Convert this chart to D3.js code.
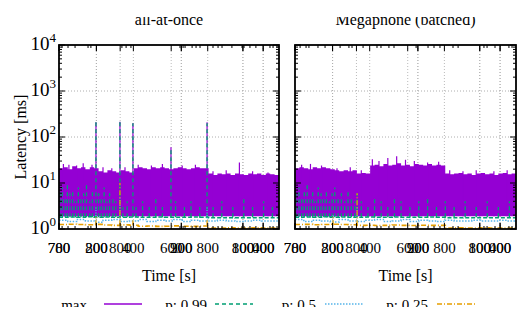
<!DOCTYPE html>
<html>
<head>
<meta charset="utf-8">
<script src="https://cdn.jsdelivr.net/npm/d3@7"></script>
<style>
body { margin: 0; background: #fff; }
text { font-family: "Liberation Serif", "DejaVu Serif", serif; fill: #000; }
</style>
</head>
<body>
<div id="chart"></div>
<script>
// Values (time in s, latency in ms)
var panelTitles = ["all-at-once", "Megapnone (batched)"];

// x tick labels overlap in the original, several sit on the same tick
var xTickVals   = [0, 0, 170, 170, 278, 338, 510, 556, 556, 676, 836, 836, 928, 928];
var xTickLabels = ["700", "780", "200", "800", "800", "400", "600", "900", "200", "800", "100", "800", "000", "400"];
var xMinorA = [14, 41, 73, 132, 145, 286, 305, 327, 550, 564, 573, 605, 623, 641, 700, 723, 741, 786, 832, 841, 868, 895, 959, 973, 991];
var xMinorB = [23, 50, 63, 104, 136, 204, 244, 258, 308, 371, 389, 425, 448, 548, 602, 629, 656, 715, 738, 855, 869, 905, 968, 982];

var yTickVals = [1, 10, 100, 1000, 10000];
var yTickExps = ["0", "1", "2", "3", "4"];

// max: top of the purple band, one value every 20 s
var maxEnvA = [21, 22, 20, 23, 21, 22, 20, 22, 21,
               18, 17, 19, 18, 17, 19, 18, 17,
               21, 22, 21, 20, 22, 21, 22, 21, 20, 21, 22, 21, 20, 21, 22, 21, 21,
               16, 15, 16, 15.5, 16, 15, 16, 15.5, 15, 16, 15.5, 16, 15, 16, 15.5, 15];
var maxEnvB = [21, 22, 21, 20, 22, 21, 22, 21, 20,
               19, 18, 19, 18, 19,
               16, 16.5, 16,
               24, 25, 23, 26, 24, 25, 27, 24, 25, 23, 26, 25, 24, 26, 24, 25, 24,
               16, 15.5, 16, 16.5, 15.5, 16, 15, 16, 16.5, 15.5, 16, 15, 16, 16.5, 15.5, 16];
var maxFloor = 1.9;
// single max peaks [time, ms]
var maxSpikesA = [[20, 26], [45, 25], [80, 24], [110, 27], [150, 25], [168, 210], [200, 22], [240, 21],
                  [277, 215], [300, 22], [336, 200], [360, 25], [420, 24], [470, 26], [509, 60], [560, 24],
                  [620, 25], [673, 210], [700, 18], [760, 19], [820, 28], [880, 18], [950, 17]];
var maxSpikesB = [[30, 25], [70, 26], [120, 24], [190, 21], [250, 22], [300, 19], [350, 33], [380, 30],
                  [420, 35], [460, 38], [500, 32], [540, 30], [600, 28], [650, 29], [700, 19], [760, 18],
                  [820, 19], [900, 18], [960, 19]];

// p99: base level every 40 s, plus peaks [time, ms]
var p99BaseA = [1.8, 1.82, 1.8, 1.85, 1.8, 1.82, 1.8, 1.8, 1.82, 1.8, 1.8, 1.82, 1.8, 1.8, 1.8, 1.82, 1.8,
                1.75, 1.75, 1.76, 1.75, 1.75, 1.76, 1.75, 1.75];
var p99BaseB = [1.8, 1.82, 1.8, 1.84, 1.8, 1.82, 1.8, 1.8, 1.82, 1.8, 1.8, 1.82, 1.8, 1.8, 1.8, 1.82, 1.8,
                1.76, 1.75, 1.76, 1.75, 1.75, 1.76, 1.75, 1.75];
var p99PeaksA = [[5, 7], [15, 8], [28, 5], [38, 9], [50, 6], [62, 7], [75, 4], [88, 8], [100, 5], [112, 6],
                 [125, 9], [140, 4], [152, 7], [168, 210], [180, 6], [192, 5], [205, 8], [218, 4], [230, 6],
                 [245, 5], [258, 4], [277, 210], [290, 3], [310, 4], [336, 200], [350, 3], [380, 4], [410, 3],
                 [440, 5], [470, 3], [509, 60], [530, 4], [570, 3], [600, 4], [640, 3], [673, 200], [700, 3],
                 [740, 4], [790, 3], [840, 5], [880, 3], [930, 4], [970, 3]];
var p99PeaksB = [[5, 6], [18, 8], [30, 5], [42, 7], [55, 9], [68, 5], [80, 7], [92, 4], [105, 8], [118, 6],
                 [130, 5], [142, 7], [155, 4], [168, 6], [180, 8], [195, 5], [210, 6], [225, 4], [240, 7],
                 [255, 5], [270, 4], [281, 6], [300, 4], [330, 3], [360, 5], [390, 4], [420, 3], [450, 5],
                 [480, 4], [520, 3], [560, 4], [600, 5], [640, 3], [680, 4], [720, 3], [770, 4], [820, 3],
                 [870, 4], [920, 3], [970, 4]];

// p50 every 40 s, plus peaks
var p50A = [1.55, 1.45, 1.6, 1.5, 1.4, 1.55, 1.6, 1.45, 1.5, 1.6, 1.45, 1.55, 1.5, 1.6, 1.45, 1.55, 1.5,
            1.5, 1.55, 1.5, 1.45, 1.5, 1.55, 1.5, 1.5];
var p50B = [1.6, 1.45, 1.55, 1.5, 1.42, 1.6, 1.5, 1.45, 1.55, 1.6, 1.45, 1.5, 1.6, 1.45, 1.55, 1.5, 1.45,
            1.55, 1.5, 1.5, 1.55, 1.5, 1.5, 1.55, 1.5];
var p50PeaksA = [[168, 3], [277, 5], [673, 3]];
var p50PeaksB = [[172, 2], [281, 3]];

// p25 every 40 s, plus peaks
var p25A = [1.25, 1.27, 1.25, 1.24, 1.26, 1.22, 1.2, 1.23, 1.21, 1.15, 1.16, 1.14, 1.15, 1.17, 1.15, 1.14, 1.16,
            1.05, 1.05, 1.06, 1.05, 1.05, 1.06, 1.05, 1.05];
var p25B = [1.25, 1.26, 1.24, 1.25, 1.27, 1.25, 1.24, 1.2, 1.21, 1.19, 1.2, 1.22, 1.2, 1.19, 1.21, 1.2, 1.2,
            1.05, 1.06, 1.05, 1.05, 1.06, 1.05, 1.05, 1.05];
var p25PeaksA = [[168, 2], [277, 10], [336, 1.6], [673, 1.6]];
var p25PeaksB = [[172, 1.8], [281, 6]];

// layout
var width = 527, height = 316;
var plotTop = 45, plotBottom = 229;
var colMax = "#9400d3", col99 = "#009e73", col50 = "#56b4e9", col25 = "#e69f00";

var panels = [
  { title: panelTitles[0], left: 59, right: 279, yLabels: true, minor: xMinorA,
    maxEnv: maxEnvA, maxSpikes: maxSpikesA, p99: p99BaseA, p99Peaks: p99PeaksA,
    p50: p50A, p50Peaks: p50PeaksA, p25: p25A, p25Peaks: p25PeaksA },
  { title: panelTitles[1], left: 295, right: 516, yLabels: false, minor: xMinorB,
    maxEnv: maxEnvB, maxSpikes: maxSpikesB, p99: p99BaseB, p99Peaks: p99PeaksB,
    p50: p50B, p50Peaks: p50PeaksB, p25: p25B, p25Peaks: p25PeaksB }
];

var svg = d3.select("#chart").append("svg")
  .attr("width", width)
  .attr("height", height);

svg.append("rect").attr("width", width).attr("height", height).attr("fill", "#fff");

var y = d3.scaleLog().domain([1, 10000]).range([plotBottom, plotTop]);

// log minor ticks 2..9 in each decade
var yMinor = [];
[1, 10, 100, 1000].forEach(function(d) {
  for (var m = 2; m <= 9; m++) yMinor.push(m * d);
});

// turns a "value every step seconds" list into points for a step line
function steps(vals, step) {
  var pts = vals.map(function(v, i) { return { t: i * step, v: v }; });
  pts.push({ t: 1000, v: vals[vals.length - 1] });
  return pts;
}

panels.forEach(function(p, k) {
  var x = d3.scaleLinear().domain([0, 1000]).range([p.left, p.right]);
  var g = svg.append("g");

  svg.append("clipPath").attr("id", "clip" + k)
    .append("rect")
    .attr("x", p.left).attr("y", plotTop)
    .attr("width", p.right - p.left).attr("height", plotBottom - plotTop);

  // grid
  g.selectAll(".hgrid").data([10, 100, 1000]).enter().append("line")
    .attr("x1", p.left).attr("x2", p.right)
    .attr("y1", function(d) { return y(d); }).attr("y2", function(d) { return y(d); })
    .attr("stroke", "#999").attr("stroke-width", 0.8).attr("stroke-dasharray", "1,2");
  g.selectAll(".vgrid").data(xTickVals.filter(function(v) { return v > 0; })).enter().append("line")
    .attr("x1", function(d) { return x(d); }).attr("x2", function(d) { return x(d); })
    .attr("y1", plotTop).attr("y2", plotBottom)
    .attr("stroke", "#aaa").attr("stroke-width", 0.8).attr("stroke-dasharray", "1,2");

  var marks = g.append("g").attr("clip-path", "url(#clip" + k + ")");

  // max
  var area = d3.area()
    .x(function(d) { return x(d.t); })
    .y0(y(maxFloor))
    .y1(function(d) { return y(d.v); })
    .curve(d3.curveStepAfter);
  marks.append("path").datum(steps(p.maxEnv, 20))
    .attr("d", area).attr("fill", colMax);
  marks.selectAll(".mspike").data(p.maxSpikes).enter().append("line")
    .attr("x1", function(d) { return x(d[0]); }).attr("x2", function(d) { return x(d[0]); })
    .attr("y1", y(maxFloor)).attr("y2", function(d) { return y(d[1]); })
    .attr("stroke", colMax).attr("stroke-width", 1.2);

  var line = d3.line()
    .x(function(d) { return x(d.t); })
    .y(function(d) { return y(d.v); })
    .curve(d3.curveStepAfter);

  // p99
  marks.selectAll(".p99peak").data(p.p99Peaks).enter().append("line")
    .attr("x1", function(d) { return x(d[0]); }).attr("x2", function(d) { return x(d[0]); })
    .attr("y1", y(1.8)).attr("y2", function(d) { return y(d[1]); })
    .attr("stroke", col99).attr("stroke-width", 1.3).attr("stroke-dasharray", "4,3");
  marks.append("path").datum(steps(p.p99, 40))
    .attr("d", line).attr("fill", "none")
    .attr("stroke", col99).attr("stroke-width", 1.6).attr("stroke-dasharray", "4,2");

  // p50
  marks.selectAll(".p50peak").data(p.p50Peaks).enter().append("line")
    .attr("x1", function(d) { return x(d[0]); }).attr("x2", function(d) { return x(d[0]); })
    .attr("y1", y(1.5)).attr("y2", function(d) { return y(d[1]); })
    .attr("stroke", col50).attr("stroke-width", 1.2).attr("stroke-dasharray", "1,1.5");
  marks.append("path").datum(steps(p.p50, 40))
    .attr("d", line).attr("fill", "none")
    .attr("stroke", col50).attr("stroke-width", 1.5).attr("stroke-dasharray", "1.5,1.5");

  // p25
  marks.selectAll(".p25peak").data(p.p25Peaks).enter().append("line")
    .attr("x1", function(d) { return x(d[0]); }).attr("x2", function(d) { return x(d[0]); })
    .attr("y1", y(1.2)).attr("y2", function(d) { return y(d[1]); })
    .attr("stroke", col25).attr("stroke-width", 1.3).attr("stroke-dasharray", "5,2,1,2");
  marks.append("path").datum(steps(p.p25, 40))
    .attr("d", line).attr("fill", "none")
    .attr("stroke", col25).attr("stroke-width", 1.6).attr("stroke-dasharray", "5,2,1,2");

  // ticks on all four sides, pointing inward
  var tk = g.append("g").attr("stroke", "#000").attr("stroke-width", 1);
  [p.left, p.right].forEach(function(side) {
    var dir = side === p.left ? 1 : -1;
    tk.selectAll(null).data(yTickVals).enter().append("line")
      .attr("x1", side).attr("x2", side + dir * 6)
      .attr("y1", function(d) { return y(d); }).attr("y2", function(d) { return y(d); });
    tk.selectAll(null).data(yMinor).enter().append("line")
      .attr("x1", side).attr("x2", side + dir * 3)
      .attr("y1", function(d) { return y(d); }).attr("y2", function(d) { return y(d); });
  });
  [plotTop, plotBottom].forEach(function(side) {
    var dir = side === plotTop ? 1 : -1;
    tk.selectAll(null).data(xTickVals).enter().append("line")
      .attr("x1", function(d) { return x(d); }).attr("x2", function(d) { return x(d); })
      .attr("y1", side).attr("y2", side + dir * 6);
    tk.selectAll(null).data(p.minor).enter().append("line")
      .attr("x1", function(d) { return x(d); }).attr("x2", function(d) { return x(d); })
      .attr("y1", side).attr("y2", side + dir * 3);
  });

  // border
  g.append("rect")
    .attr("x", p.left).attr("y", plotTop)
    .attr("width", p.right - p.left).attr("height", plotBottom - plotTop)
    .attr("fill", "none").attr("stroke", "#000").attr("stroke-width", 1.8);

  // x tick labels
  g.selectAll(".xl").data(xTickLabels).enter().append("text")
    .attr("x", function(d, i) { return x(xTickVals[i]); })
    .attr("y", 253)
    .attr("text-anchor", "middle")
    .style("font-size", "15px")
    .text(function(d) { return d; });

  // y tick labels (left panel only)
  if (p.yLabels) {
    var yl = g.selectAll(".yl").data(yTickVals).enter().append("text")
      .attr("x", 56)
      .attr("y", function(d) { return y(d) + 5; })
      .attr("text-anchor", "end")
      .style("font-size", "19px");
    yl.append("tspan").text("10");
    yl.append("tspan").attr("dy", -8).style("font-size", "13px")
      .text(function(d, i) { return yTickExps[i]; });
  }

  // panel title and x title
  g.append("text")
    .attr("x", (p.left + p.right) / 2).attr("y", 25)
    .attr("text-anchor", "middle")
    .style("font-size", "16px")
    .text(p.title);
  g.append("text")
    .attr("x", (p.left + p.right) / 2).attr("y", 281)
    .attr("text-anchor", "middle")
    .style("font-size", "16px")
    .text("Time [s]");
});

svg.append("text")
  .attr("transform", "translate(26," + ((plotTop + plotBottom) / 2) + ") rotate(-90)")
  .attr("text-anchor", "middle")
  .style("font-size", "16px")
  .text("Latency [ms]");

// legend
var legendItems = [
  { label: "max", color: colMax, dash: null, tx: 87, lx: 104 },
  { label: "p: 0.99", color: col99, dash: "4,3", tx: 207, lx: 215 },
  { label: "p: 0.5", color: col50, dash: "1.5,1.5", tx: 316, lx: 325 },
  { label: "p: 0.25", color: col25, dash: "5,2,1,2", tx: 428, lx: 437 }
];
var leg = svg.append("g");
legendItems.forEach(function(d) {
  leg.append("text").attr("x", d.tx).attr("y", 310)
    .attr("text-anchor", "end").style("font-size", "15px").text(d.label);
  leg.append("line").attr("x1", d.lx).attr("x2", d.lx + 38)
    .attr("y1", 304).attr("y2", 304)
    .attr("stroke", d.color).attr("stroke-width", 1.6)
    .attr("stroke-dasharray", d.dash);
});

// the reference picture is cut off at the top and the bottom
svg.append("rect").attr("x", 0).attr("y", 0).attr("width", width).attr("height", 17).attr("fill", "#fff");
svg.append("rect").attr("x", 0).attr("y", 307).attr("width", width).attr("height", 9).attr("fill", "#fff");
</script>
</body>
</html>
